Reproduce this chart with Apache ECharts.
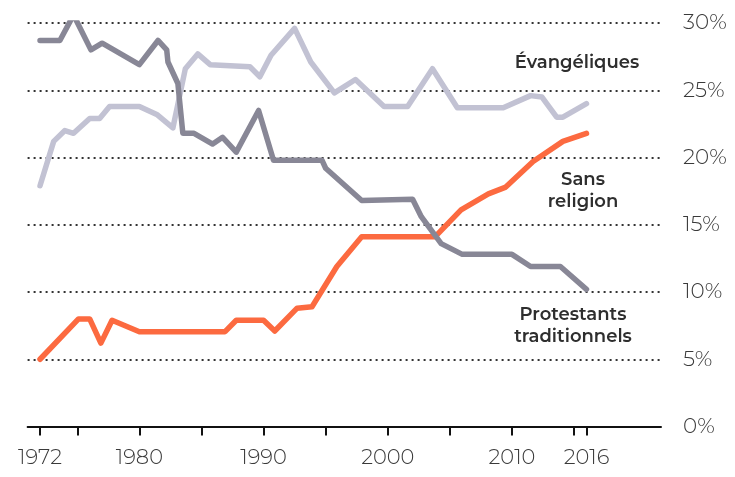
<!DOCTYPE html>
<html><head><meta charset="utf-8">
<script src="https://cdn.jsdelivr.net/npm/echarts@6/dist/echarts.min.js"></script>
<style>html,body{margin:0;padding:0;background:#fff}#c{width:735px;height:477px}</style>
</head><body><div id="c"></div>
<script>
const protYears = [1972,1973.6,1974.7,1976.1,1977,1980,1981.5,1982.2,1982.3,1983.1,1983.5,1984.4,1985.9,1986.7,1987.8,1989.6,1990.8,1994.7,1995,1997.9,2002,2002.7,2004.3,2006,2010,2011.5,2013.9,2016];
const protValues = [28.7,28.7,30.6,28.0,28.5,26.9,28.7,28.0,27.1,25.5,21.8,21.8,21.0,21.5,20.4,23.5,19.8,19.8,19.2,16.8,16.9,15.6,13.6,12.8,12.8,11.9,11.9,10.2];
const evYears = [1972,1973.1,1974,1974.7,1976,1976.8,1977.6,1980,1981.4,1982.7,1983.7,1984.7,1985.7,1988.9,1989.7,1990.6,1992.5,1993.8,1995.7,1997.4,1999.7,2001.6,2003.6,2005.6,2009.3,2011.5,2012.4,2013.6,2014.1,2016];
const evValues = [17.9,21.2,22.0,21.8,22.9,22.9,23.8,23.8,23.2,22.2,26.6,27.7,26.9,26.75,26.0,27.6,29.6,27.1,24.8,25.8,23.8,23.8,26.6,23.7,23.7,24.6,24.5,23.0,23.0,24.0];
const noneYears = [1972,1975.1,1976,1976.9,1977.8,1980,1986.9,1987.8,1990,1990.9,1992.7,1993.9,1995.9,1997.9,2003.8,2005.9,2008.1,2009.5,2011.7,2014.1,2016];
const noneValues = [5.0,8.0,8.0,6.2,7.9,7.05,7.05,7.9,7.9,7.1,8.8,8.9,11.9,14.1,14.1,16.1,17.3,17.8,19.7,21.2,21.8];
const tickYears = [1972,1975,1980,1985,1990,1995,2000,2005,2010,2015,2016];
const labelYears = [1972,1980,1990,2000,2010,2016];
const seriesNames = ['Évangéliques','Sans religion','Protestants traditionnels'];

const zip = (a,b)=>a.map((x,i)=>[x,b[i]]);
const chart = echarts.init(document.getElementById('c'), null, {renderer:'canvas'});
const font = 'Montserrat, "Noto Sans", sans-serif';
chart.setOption({
  animation:false,
  grid:{left:27.6,right:74,top:23,bottom:50.5},
  xAxis:{type:'value',min:1971,max:2022,
    axisLine:{show:true,lineStyle:{color:'#111',width:2}},
    axisTick:{show:true,customValues:tickYears,length:9,lineStyle:{color:'#111',width:2}},
    axisLabel:{customValues:labelYears,color:'#3a3a3a',fontSize:21,fontWeight:300,fontFamily:font,margin:21,formatter:v=>String(v)},
    splitLine:{show:false}},
  yAxis:{type:'value',min:0,max:30,interval:5,position:'right',
    axisLine:{show:false},axisTick:{show:false},
    axisLabel:{color:'#3a3a3a',fontSize:21.5,fontWeight:300,fontFamily:font,margin:22,formatter:v=>v+'%'},
    splitLine:{show:true,lineStyle:{color:'#333',width:2,type:[2,4]}}},
  series:[
    {name:seriesNames[0],type:'line',data:zip(evYears,evValues),showSymbol:false,lineStyle:{color:'#c2c2d3',width:5.5,join:'round',cap:'round'},z:2},
    {name:seriesNames[1],type:'line',data:zip(noneYears,noneValues),showSymbol:false,lineStyle:{color:'#fc6a40',width:5.5,join:'round',cap:'round'},z:3},
    {name:seriesNames[2],type:'line',data:zip(protYears,protValues),showSymbol:false,lineStyle:{color:'#888796',width:5.5,join:'round',cap:'round'},z:4}
  ],
  graphic:[
    {type:'text',x:577,y:63,style:{text:seriesNames[0],font:'600 18px '+font,fill:'#2e2e2e',align:'center',verticalAlign:'middle'}},
    {type:'text',x:583,y:191,style:{text:'Sans\nreligion',font:'600 18px '+font,fill:'#2e2e2e',align:'center',verticalAlign:'middle',lineHeight:22}},
    {type:'text',x:573,y:326,style:{text:'Protestants\ntraditionnels',font:'600 18px '+font,fill:'#2e2e2e',align:'center',verticalAlign:'middle',lineHeight:22}}
  ]
});
</script></body></html>
